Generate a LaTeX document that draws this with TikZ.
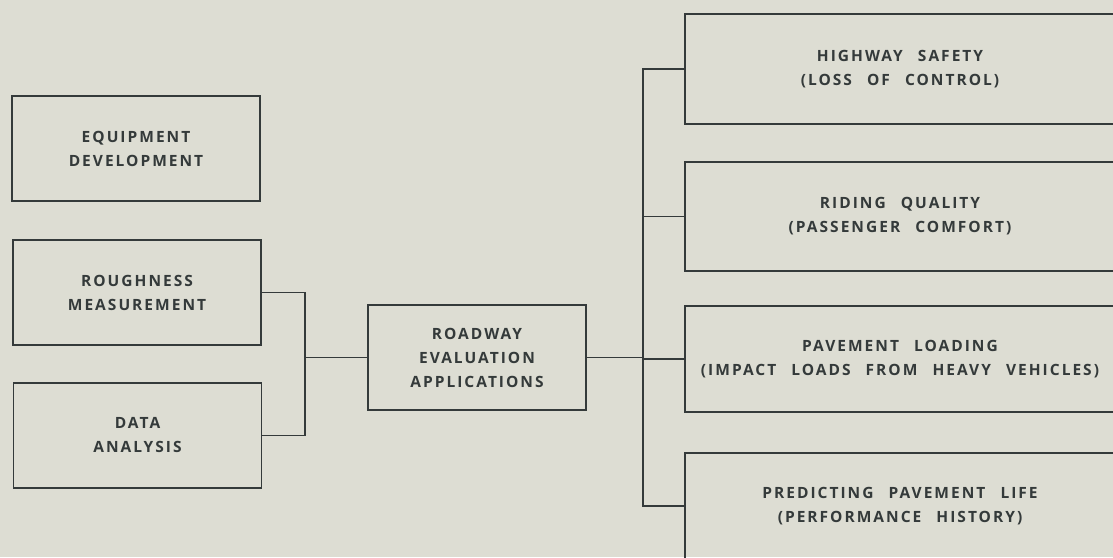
\documentclass[tikz,border=0pt]{standalone}
\usepackage{fontspec}
\newfontfamily\boxfont[LetterSpace=13,WordSpace=2.5]{Open Sans}
\definecolor{bgc}{RGB}{221,221,211}
\definecolor{ink}{RGB}{52,58,58}
\begin{document}
\begin{tikzpicture}[x=1pt,y=-1pt,
  box/.style={draw=ink, line width=1.8pt, align=center, text=ink, inner sep=0pt,
    font=\boxfont\bfseries\fontsize{15.5}{24}\selectfont},
  leftbox/.style={box, minimum width=248pt, minimum height=105pt},
  rightbox/.style={box, minimum width=430pt},
  conn/.style={draw=ink, line width=1.8pt}]
\useasboundingbox[fill=bgc] (0,0) rectangle (1113,557);
\node[leftbox] (eq) at (136,148.5) {EQUIPMENT\\DEVELOPMENT};
\node[leftbox] (rough) at (137,292.5) {ROUGHNESS\\MEASUREMENT};
\node[leftbox] (data) at (137.5,435.5) {DATA\\ANALYSIS};
\node[box, minimum width=218pt, minimum height=105pt] (road) at (477,357.5) {ROADWAY\\EVALUATION\\APPLICATIONS};
\node[rightbox, minimum height=110pt] (hs) at (900,69) {HIGHWAY SAFETY\\(LOSS OF CONTROL)};
\node[rightbox, minimum height=109pt] (rq) at (900,216.5) {RIDING QUALITY\\(PASSENGER COMFORT)};
\node[rightbox, minimum height=106pt] (pl) at (900,359) {PAVEMENT LOADING\\(IMPACT LOADS FROM HEAVY VEHICLES)};
\node[rightbox, minimum height=106pt] (pp) at (900,506) {PREDICTING PAVEMENT LIFE\\(PERFORMANCE HISTORY)};
\coordinate (lbus) at (305,357.5);
\coordinate (rbus) at (643,357.5);
\draw[conn] (rough.east) -| (lbus) |- (data.east);
\draw[conn] (lbus) -- (road.west);
\draw[conn] (road.east) -- (rbus);
\draw[conn] (hs.west) -| (rbus) |- (pp.west);
\draw[conn] (rq.west) -- (rq.west -| rbus);
\draw[conn] (pl.west) -- (pl.west -| rbus);
\end{tikzpicture}
\end{document}
